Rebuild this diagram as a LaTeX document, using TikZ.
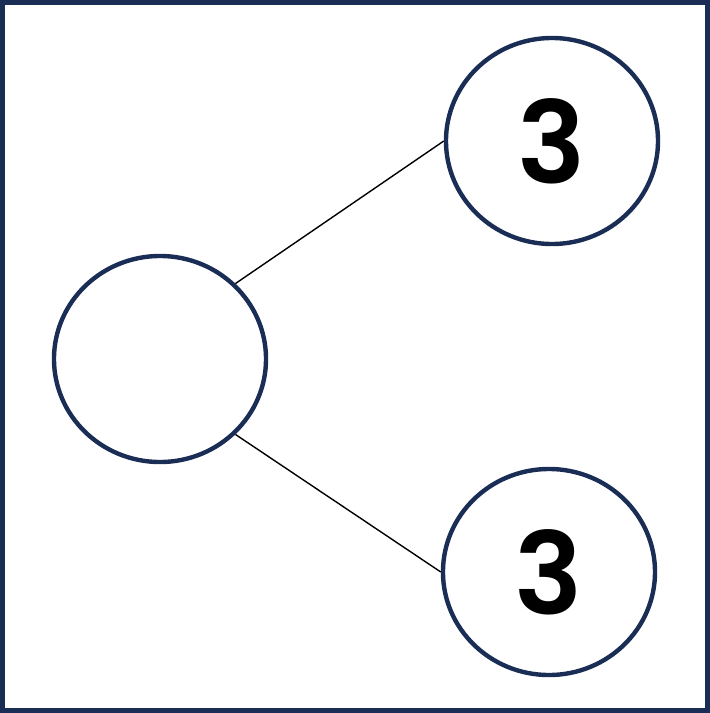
\documentclass[tikz,border=0pt]{standalone}
\usepackage{fontspec}
\setmainfont{Poppins}[BoldFont={Poppins SemiBold}]
\usepackage{xcolor}
\usetikzlibrary{shapes.geometric}
\definecolor{navy}{HTML}{1A2E55}
\definecolor{ink}{HTML}{000000}
\newcommand{\numf}{\fontsize{81}{81}\selectfont\bfseries}

\begin{document}
\begin{tikzpicture}[
  x=0.025cm, y=-0.025cm,
  bub/.style={ellipse, draw=navy, line width=0.11cm, fill=white, minimum width=5.3cm,
              minimum height=5.15cm, inner sep=0pt, text=ink, font=\numf},
  ln/.style={line width=0.035cm, draw=ink},
]
% frame and page size
\useasboundingbox (0,0) rectangle (710,713);
\node[draw=navy, line width=0.125cm, minimum width=17.625cm, minimum height=17.7cm,
      inner sep=0pt] (frame) at (355,356.5) {};
% bond: empty whole, two parts
\node[bub] (whole) at (160,359) {};
\node[bub] (top) at (552,141) {3};
\node[bub] (bot) at (549,572) {3};
\draw[ln] (whole.45) -- (top.west);
\draw[ln] (whole.-45) -- (bot.west);
\end{tikzpicture}
\end{document}
